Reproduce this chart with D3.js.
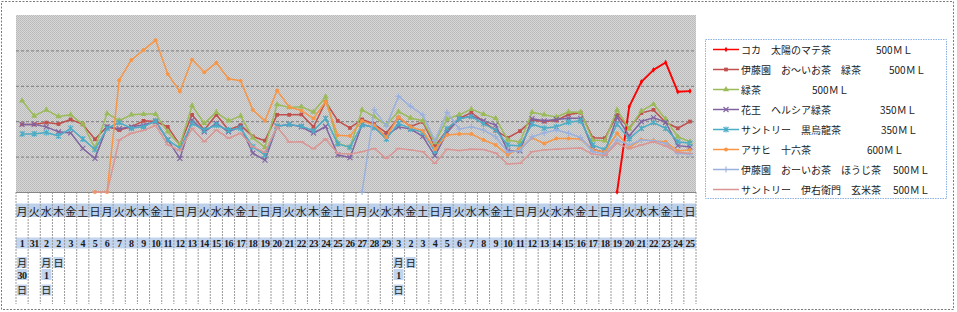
<!DOCTYPE html>
<html>
<head>
<meta charset="utf-8">
<script src="https://cdn.jsdelivr.net/npm/d3@7"></script>
<style>
body { margin: 0; background: #fff; }
svg { display: block; }
text { font-family: "Noto Sans CJK JP", "Noto Sans", sans-serif; }
</style>
</head>
<body>
<div id="chart"></div>
<script>
// category rows (weekday + date)
var weekdays = "月火水木金土日月火水木金土日月火水木金土日月火水木金土日月火水木金土日月火水木金土日月火水木金土日月火水木金土日".split("");
var dates = ["1月30日", "31", "2月1日", "2日", "3", "4", "5", "6", "7", "8", "9", "10", "11", "12", "13", "14",
    "15", "16", "17", "18", "19", "20", "21", "22", "23", "24", "25", "26", "27", "28", "29",
    "3月1日", "2日", "3", "4", "5", "6", "7", "8", "9", "10", "11", "12", "13", "14", "15", "16",
    "17", "18", "19", "20", "21", "22", "23", "24", "25"];

var names = ["コカ　太陽のマテ茶", "伊藤園　お～いお茶　緑茶", "緑茶", "花王　ヘルシア緑茶",
    "サントリー　黒烏龍茶", "アサヒ　十六茶", "伊藤園　おーいお茶　ほうじ茶", "サントリー　伊右衛門　玄米茶"];
var sizes = ["500ＭＬ", "500ＭＬ", "500ＭＬ", "350ＭＬ", "350ＭＬ", "600ＭＬ", "500ＭＬ", "500ＭＬ"];
var colors = ["#ff0000", "#c0504d", "#9bbb59", "#8064a2", "#4bacc6", "#f79646", "#9bb1dd", "#da9694"];
var markers = ["diamond", "square", "triangle", "x", "star", "circle", "plus", "dash"];

// series values (no y axis labels in the original, scale 0-500)
var s1 = [null, null, null, null, null, null, null,
    null, null, null, null, null, null, null,
    null, null, null, null, null, null, null,
    null, null, null, null, null, null, null,
    null, null, null, null, null, null, null,
    null, null, null, null, null, null, null,
    null, null, null, null, null, null, null,
    0, 241, 311, 345, 366, 283, 285];
var s2 = [191, 191, 196, 192, 205, 191, 149, 185, 175, 184, 201, 199, 184, 133, 218, 175, 218, 175, 189, 157,
    145, 218, 218, 219, 184, 255, 201, 181, 205, 192, 167, 210, 185, 198, 129, 175, 208, 224, 199, 174,
    153, 172, 203, 199, 202, 219, 224, 153, 152, 218, 180, 223, 232, 197, 180, 199];
var s3 = [258, 215, 232, 213, 218, 192, 124, 222, 202, 218, 220, 220, 170, 133, 244, 194, 225, 201, 215, 153,
    126, 247, 239, 241, 226, 269, 138, 126, 232, 213, 189, 227, 209, 201, 140, 206, 218, 234, 220, 208,
    147, 141, 225, 218, 212, 226, 225, 147, 145, 232, 178, 229, 248, 206, 156, 142];
var s4 = [191, 191, 184, 170, 167, 123, 95, 184, 179, 184, 189, 199, 147, 95, 203, 170, 194, 170, 184, 110,
    90, 186, 191, 184, 166, 185, 105, 97, 191, 182, 159, 184, 178, 157, 102, 168, 207, 215, 201, 189,
    116, 116, 207, 201, 205, 208, 208, 121, 112, 212, 158, 199, 210, 197, 131, 127];
var s5 = [164, 164, 168, 158, 180, 150, 120, 180, 196, 180, 184, 201, 147, 123, 194, 175, 189, 175, 180, 128,
    105, 186, 191, 186, 173, 208, 136, 126, 190, 182, 150, 194, 179, 169, 116, 179, 207, 213, 193, 175,
    133, 130, 192, 180, 184, 197, 201, 133, 119, 192, 150, 180, 196, 180, 142, 138];
var s6 = [null, null, null, null, null, null, 0, 0, 316, 373, 401, 429, 333, 284, 374, 338, 365, 320, 314, 232,
    201, 287, 240, 230, 208, 255, 160, 158, 201, 189, 155, 212, 184, 173, 121, 161, 164, 164, 147, 133,
    105, 123, 153, 137, 151, 151, 150, 119, 113, 166, 126, 148, 144, 142, 116, 119];
var s7 = [null, null, null, null, null, null, null, null, null, null, null, null, null, null, null, null, null, null, null, null,
    null, null, null, null, null, null, null, null, 0, 232, 186, 270, 242, 218, 145, 225, 178, 184, 175, 156,
    112, 117, 156, 167, 175, 166, 154, 114, 107, 147, 133, 147, 145, 138, 109, 107];
var s8 = [null, null, null, null, null, null, 0, 0, 147, 166, 174, 188, 133, 117, 180, 142, 175, 152, 166, 128,
    112, 184, 141, 142, 122, 150, 109, 107, 114, 123, 95, 123, 119, 114, 81, 121, 117, 121, 120, 110,
    79, 81, 114, 119, 121, 123, 124, 107, 103, 138, 122, 133, 142, 130, 112, 109];
var seriesValues = [s1, s2, s3, s4, s5, s6, s7, s8];

var W = 957, H = 312;
var plot = { left: 16, right: 696, top: 15, bottom: 192 };

var svg = d3.select("#chart").append("svg")
    .attr("width", W)
    .attr("height", H);

// dotted fill of the plot area
var defs = svg.append("defs");
var pat = defs.append("pattern")
    .attr("id", "dots")
    .attr("width", 2).attr("height", 2)
    .attr("patternUnits", "userSpaceOnUse");
pat.append("rect").attr("width", 2).attr("height", 2).attr("fill", "#d8d8d8");
pat.append("rect").attr("width", 1).attr("height", 1).attr("fill", "#b8b8b8");
pat.append("rect").attr("x", 1).attr("y", 1).attr("width", 1).attr("height", 1).attr("fill", "#bcbcbc");

// outer frame
svg.append("rect")
    .attr("x", 1.5).attr("y", 1.5)
    .attr("width", 952).attr("height", 308)
    .attr("fill", "none")
    .attr("stroke", "#7a7a7a")
    .attr("stroke-dasharray", "2,1.5");

var idx = d3.range(dates.length);
var x = d3.scaleBand().domain(idx).range([plot.left, plot.right]).padding(0);
var y = d3.scaleLinear().domain([0, 500]).range([plot.bottom, plot.top]);
var cx = function (i) { return x(i) + x.bandwidth() / 2; };

svg.append("rect")
    .attr("x", plot.left).attr("y", plot.top)
    .attr("width", plot.right - plot.left)
    .attr("height", plot.bottom - plot.top)
    .attr("fill", "url(#dots)");

// gridlines
var grid = svg.append("g")
    .attr("transform", "translate(" + plot.left + ",0)")
    .call(d3.axisLeft(y).tickValues([100, 200, 300, 400]).tickSize(-(plot.right - plot.left)).tickFormat(""));
grid.select(".domain").remove();
grid.selectAll("line")
    .attr("stroke", "#7c7c7c")
    .attr("stroke-dasharray", "3,2");

// category axis: two label rows with blue bands
svg.append("rect")
    .attr("x", plot.left).attr("y", 203.5)
    .attr("width", plot.right - plot.left).attr("height", 13.5)
    .attr("fill", "#bdd0ea");
svg.append("rect")
    .attr("x", plot.left).attr("y", 237.5)
    .attr("width", plot.right - plot.left).attr("height", 11)
    .attr("fill", "#c3d5ee");

svg.append("g").selectAll("text")
    .data(weekdays)
    .enter().append("text")
    .attr("x", function (d, i) { return cx(i); })
    .attr("y", 215.5)
    .attr("text-anchor", "middle")
    .attr("font-size", 11)
    .attr("fill", "#1a1a1a")
    .text(function (d) { return d; });

var rowBase = [246.5, 266.5, 278.5, 294];
var dateG = svg.append("g");
dates.forEach(function (lab, i) {
    var parts = lab.match(/\d+|\D/g);
    parts.forEach(function (p, k) {
        var isNum = /\d/.test(p);
        if (k > 0) {
            dateG.append("rect")
                .attr("x", cx(i) - 5).attr("y", rowBase[k] - 9.5)
                .attr("width", 10).attr("height", 11)
                .attr("fill", "#c3d5ee");
        }
        dateG.append("text")
            .attr("x", cx(i))
            .attr("y", rowBase[k])
            .attr("text-anchor", "middle")
            .attr("font-size", 10)
            .attr("font-weight", isNum ? "bold" : "normal")
            .style("font-family", isNum ? "'Liberation Serif', serif" : null)
            .style("letter-spacing", isNum ? "-0.5px" : null)
            .attr("fill", "#1a1a1a")
            .text(p);
    });
});

// column separators of the category table
svg.append("g").selectAll("line")
    .data(d3.range(dates.length + 1))
    .enter().append("line")
    .attr("x1", function (k) { return plot.left + k * x.step(); })
    .attr("x2", function (k) { return plot.left + k * x.step(); })
    .attr("y1", plot.bottom).attr("y2", 304)
    .attr("stroke", "#9a9a9a")
    .attr("stroke-dasharray", "2,1");

svg.append("line")
    .attr("x1", plot.left).attr("x2", plot.right)
    .attr("y1", plot.bottom + 0.5).attr("y2", plot.bottom + 0.5)
    .attr("stroke", "#868686");

// markers
function drawMarker(g, type, color, px, py) {
    if (type === "diamond" || type === "square" || type === "triangle" || type === "circle") {
        var sym = { diamond: d3.symbolDiamond, square: d3.symbolSquare, triangle: d3.symbolTriangle, circle: d3.symbolCircle }[type];
        var size = { diamond: 9, square: 14, triangle: 16, circle: 12 }[type];
        g.append("path")
            .attr("d", d3.symbol().type(sym).size(size)())
            .attr("transform", "translate(" + px + "," + py + ")")
            .attr("fill", color);
    } else {
        var d = {
            x: "M-2.5,-2.5L2.5,2.5M-2.5,2.5L2.5,-2.5",
            star: "M-2.5,-2.5L2.5,2.5M-2.5,2.5L2.5,-2.5M0,-3V3",
            plus: "M-3,0H3M0,-3V3",
            dash: "M-3,0H3"
        }[type];
        g.append("path")
            .attr("d", d)
            .attr("transform", "translate(" + px + "," + py + ")")
            .attr("fill", "none")
            .attr("stroke", color)
            .attr("stroke-width", 1.1);
    }
}

var line = d3.line()
    .defined(function (d) { return d != null; })
    .x(function (d, i) { return cx(i); })
    .y(function (d) { return y(d); });

seriesValues.forEach(function (vals, s) {
    var g = svg.append("g");
    g.append("path")
        .datum(vals)
        .attr("d", line)
        .attr("fill", "none")
        .attr("stroke", colors[s])
        .attr("stroke-width", s === 0 ? 1.9 : 1.5)
        .attr("stroke-linejoin", "round");
    vals.forEach(function (v, i) {
        if (v != null) drawMarker(g, markers[s], colors[s], cx(i), y(v));
    });
});

// legend
var lg = svg.append("g");
lg.append("rect")
    .attr("x", 705.5).attr("y", 39.5)
    .attr("width", 241).attr("height", 159)
    .attr("fill", "#fff")
    .attr("stroke", "#8db3e2")
    .attr("stroke-dasharray", "1.5,1");
var sizeX = [876, 889, 812, 880, 881, 867, 893, 893];
names.forEach(function (n, s) {
    var cy = 49.5 + s * 20;
    lg.append("line")
        .attr("x1", 713).attr("x2", 739)
        .attr("y1", cy).attr("y2", cy)
        .attr("stroke", colors[s])
        .attr("stroke-width", 1.5);
    drawMarker(lg, markers[s], colors[s], 726, cy);
    lg.append("text")
        .attr("x", 741).attr("y", cy + 4)
        .attr("font-size", 10)
        .attr("fill", "#222")
        .text(n);
    lg.append("text")
        .attr("x", sizeX[s]).attr("y", cy + 4)
        .attr("font-size", 10)
        .attr("fill", "#222")
        .text(sizes[s]);
});
</script>
</body>
</html>
